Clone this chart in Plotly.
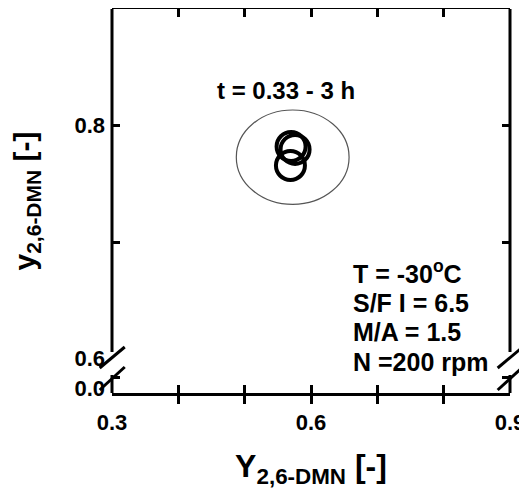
import plotly.graph_objects as go

# ---- data ----
Y_feed = [0.570, 0.576, 0.569]          # Y_2,6-DMN
y_ext = [0.782, 0.7795, 0.7657]         # y_2,6-DMN
ellipse_cx = 0.5724
ellipse_cy = 0.7728
ellipse_rx = 0.085
ellipse_ry = 0.0405

x_tickvals = [0.3, 0.4, 0.5, 0.6, 0.7, 0.8, 0.9]
x_ticktext = ["0.3", "", "", "0.6", "", "", "0.9"]
y_tickvals = [0.584, 0.7, 0.8]
y_ticktext = ["", "", "0.8"]
y_break_labelvals = [0.5746, 0.6]
y_break_labeltext = ["0.0", "0.6"]
y_range = [0.5704, 0.9]
x_range = [0.3, 0.9]

condition_lines = ["T = -30<sup>o</sup>C", "S/F I = 6.5", "M/A = 1.5", "N =200 rpm"]
condition_ypos = [0.3159, 0.2344, 0.1589, 0.0815]

FONT = "Liberation Sans, Arial, sans-serif"

fig = go.Figure()
fig.add_trace(go.Scatter(
    x=Y_feed, y=y_ext, mode="markers",
    marker=dict(symbol="circle-open", size=29, color="black",
                line=dict(color="black", width=4)),
    showlegend=False, hoverinfo="skip"))
fig.add_trace(go.Scatter(x=[None], y=[None], yaxis="y2", showlegend=False))

fig.add_shape(type="circle", xref="x", yref="y",
              x0=ellipse_cx - ellipse_rx, x1=ellipse_cx + ellipse_rx,
              y0=ellipse_cy - ellipse_ry, y1=ellipse_cy + ellipse_ry,
              line=dict(color="#555555", width=1.2))

ax_lw = 3
brk_lo, brk_hi = 0.0469, 0.1068
for xp in (0, 1):
    fig.add_shape(type="line", xref="paper", yref="paper",
                  x0=xp, x1=xp, y0=brk_hi, y1=1, line=dict(color="black", width=ax_lw))
    fig.add_shape(type="line", xref="paper", yref="paper",
                  x0=xp, x1=xp, y0=0, y1=brk_lo, line=dict(color="black", width=ax_lw))
    for (ya, yb) in ((0.0651, 0.1198), (0.0078, 0.0677)):
        fig.add_shape(type="line", xref="paper", yref="paper",
                      x0=xp - 0.031, x1=xp + 0.032, y0=ya, y1=yb,
                      line=dict(color="black", width=ax_lw))

fig.add_annotation(x=0.563, y=0.830, xref="x", yref="y", text="<b>t = 0.33 - 3 h</b>",
                   showarrow=False, font=dict(family=FONT, size=24, color="black"))
for txt, yp in zip(condition_lines, condition_ypos):
    fig.add_annotation(x=0.661, y=yp, xref="x", yref="paper", text="<b>" + txt + "</b>",
                       showarrow=False, xanchor="left", yanchor="middle", align="left",
                       font=dict(family=FONT, size=25, color="black"))

tickfont = dict(family=FONT, size=22, color="black", weight="bold")

# the page body adds an 8px offset, so the figure is sized to fit 527x494 with it
fig.update_layout(
    width=519, height=486,
    margin=dict(l=104, r=17, t=1, b=101, autoexpand=False),
    paper_bgcolor="white", plot_bgcolor="white",
    font=dict(family=FONT, color="black"),
    xaxis=dict(range=x_range, tickvals=x_tickvals, ticktext=x_ticktext,
               ticks="inside", ticklen=8, tickwidth=2.5, tickcolor="black",
               showline=True, linecolor="black", linewidth=ax_lw, mirror="allticks",
               showgrid=False, zeroline=False, automargin=False,
               tickfont=tickfont, ticklabelstandoff=8,
               title=dict(text="<b>Y<sub>2,6-DMN</sub> [-]</b>", standoff=21,
                          font=dict(family=FONT, size=32, color="black"))),
    yaxis=dict(range=y_range, tickvals=y_tickvals, ticktext=y_ticktext,
               ticks="inside", ticklen=8, tickwidth=2.5, tickcolor="black",
               showline=False, mirror="ticks", automargin=False,
               showgrid=False, zeroline=False, ticklabelstandoff=6,
               tickfont=tickfont,
               title=dict(text="<b>y<sub>2,6-DMN</sub> [-]</b>", standoff=33,
                          font=dict(family=FONT, size=30, color="black"))),
    yaxis2=dict(range=y_range, overlaying="y", side="left",
                tickvals=y_break_labelvals, ticktext=y_break_labeltext,
                ticks="", showline=False, showgrid=False, zeroline=False,
                ticklabelstandoff=6, automargin=False,
                tickfont=tickfont),
)

fig.write_html("out.html")
